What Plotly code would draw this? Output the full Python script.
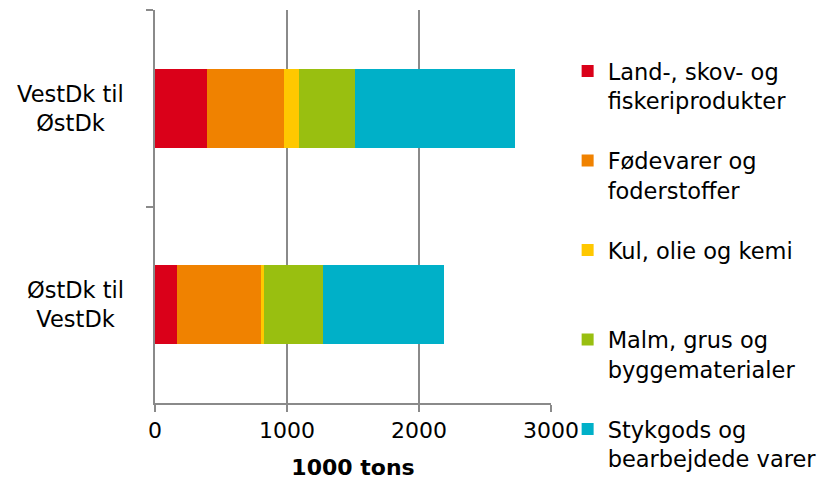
import plotly.graph_objects as go

# Freight between West and East Denmark by commodity group (1000 tons)
routes = ["VestDk til ØstDk", "ØstDk til VestDk"]
route_labels = ["VestDk til<br>ØstDk", "ØstDk til<br>VestDk"]

groups = [
    "Land-, skov- og<br>fiskeriprodukter",
    "Fødevarer og<br>foderstoffer",
    "Kul, olie og kemi<br> ",
    "Malm, grus og<br>byggematerialer",
    "Stykgods og<br>bearbejdede varer",
]
land_skov_fiskeri = [392, 164]
foedevarer_foder = [584, 640]
kul_olie_kemi = [114, 18]
malm_grus_byg = [425, 447]
stykgods = [1211, 920]

x_ticks = [0, 1000, 2000, 3000]
x_title = "1000 tons"

series = [land_skov_fiskeri, foedevarer_foder, kul_olie_kemi, malm_grus_byg, stykgods]
colors = ["#DA0019", "#F08200", "#FFC800", "#99BF10", "#00B0C8"]

FONT = "Verdana, DejaVu Sans, sans-serif"
GRID = "#8a8a8a"

fig = go.Figure()
for i, (name, vals, col) in enumerate(zip(groups, series, colors)):
    fig.add_trace(go.Bar(
        y=routes, x=vals, name=name, orientation="h",
        marker=dict(color=col, line=dict(width=0)),
        legendgroup=f"g{i}",
    ))

for lbl, cat in zip(route_labels, routes):
    fig.add_annotation(
        text=lbl, xref="paper", yref="y", x=-0.072, y=cat,
        xanchor="right", yanchor="middle", align="center",
        showarrow=False, font=dict(family=FONT, size=22.5, color="#000"),
    )

fig.update_layout(
    width=818, height=480,
    margin=dict(l=155, r=267, t=10, b=77, autoexpand=False),
    paper_bgcolor="white", plot_bgcolor="white",
    barmode="stack", bargap=0.6,
    font=dict(family=FONT, size=22, color="#000"),
    showlegend=True,
    legend=dict(
        x=1.042, xanchor="left", yref="container", y=0.896, yanchor="top",
        maxheight=470,
        traceorder="grouped", tracegroupgap=28,
        font=dict(family=FONT, size=22.5, color="#000"),
        valign="top", bgcolor="rgba(0,0,0,0)",
    ),
    xaxis=dict(
        range=[0, 3000], tickvals=x_ticks, ticktext=[str(v) for v in x_ticks],
        showgrid=True, gridcolor=GRID, gridwidth=2,
        showline=True, linecolor=GRID, linewidth=2,
        ticks="outside", ticklen=7, tickcolor=GRID, tickwidth=2,
        zeroline=False, fixedrange=True,
        title=dict(text=f"<b>{x_title}</b>", font=dict(family=FONT, size=22, color="#000"), standoff=18),
    ),
    yaxis=dict(
        type="category", autorange="reversed",
        showticklabels=False, showgrid=False,
        showline=True, linecolor=GRID, linewidth=2,
        ticks="outside", ticklen=7, tickcolor=GRID, tickwidth=2,
        tickson="boundaries", zeroline=False,
    ),
)

fig.write_html("out.html")
